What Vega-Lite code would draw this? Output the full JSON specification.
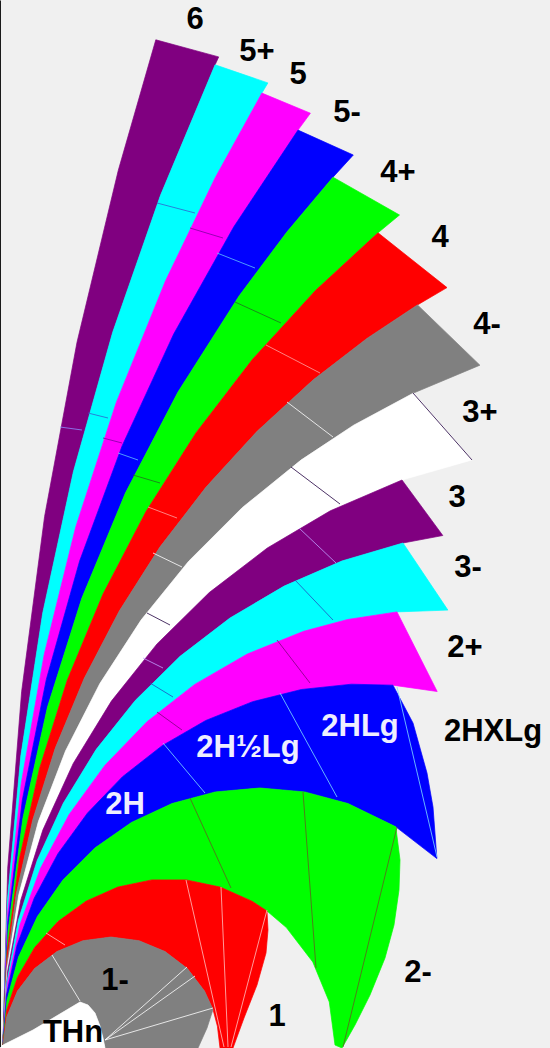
{
  "$schema": "https://vega.github.io/schema/vega-lite/v6.json",
  "width": 550,
  "height": 1048,
  "autosize": {"type": "fit", "contains": "padding"},
  "padding": 0,
  "background": "#f0f0f0",
  "config": {"view": {"stroke": null}},
  "datasets": {
    "bands": [
      {"b":"6","i":0,"x":3,"y":3},{"b":"6","i":1,"x":7.7,"y":179.8},{"b":"6","i":2,"x":21.6,"y":356.2},{"b":"6","i":3,"x":44.6,"y":531.6},{"b":"6","i":4,"x":77,"y":705.7},{"b":"6","i":5,"x":118.3,"y":877.7},{"b":"6","i":6,"x":155.8,"y":1008.2},{"b":"6","i":7,"x":218.7,"y":991.1},{"b":"6","i":8,"x":215.1,"y":983.2},{"b":"6","i":9,"x":160.4,"y":852.4},{"b":"6","i":10,"x":112.7,"y":715.7},{"b":"6","i":11,"x":73.4,"y":576.3},{"b":"6","i":12,"x":42.7,"y":434.8},{"b":"6","i":13,"x":20.8,"y":291.9},{"b":"6","i":14,"x":7.4,"y":147.6},{"b":"6","i":15,"x":3,"y":3},

      {"b":"5+","i":0,"x":3,"y":3},{"b":"5+","i":1,"x":7.4,"y":147.6},{"b":"5+","i":2,"x":20.8,"y":291.9},{"b":"5+","i":3,"x":42.7,"y":434.8},{"b":"5+","i":4,"x":73.4,"y":576.3},{"b":"5+","i":5,"x":112.7,"y":715.7},{"b":"5+","i":6,"x":160.4,"y":852.4},{"b":"5+","i":7,"x":215.1,"y":983.2},{"b":"5+","i":8,"x":267.9,"y":965.1},{"b":"5+","i":9,"x":261.9,"y":954.9},{"b":"5+","i":10,"x":215.3,"y":870.5},{"b":"5+","i":11,"x":165.5,"y":767.2},{"b":"5+","i":12,"x":116.3,"y":645.6},{"b":"5+","i":13,"x":75.7,"y":520.9},{"b":"5+","i":14,"x":44.2,"y":393.6},{"b":"5+","i":15,"x":21.2,"y":264.6},{"b":"5+","i":16,"x":7.5,"y":134.2},{"b":"5+","i":17,"x":3,"y":3},

      {"b":"5","i":0,"x":3,"y":3},{"b":"5","i":1,"x":7.5,"y":134.2},{"b":"5","i":2,"x":21.2,"y":264.6},{"b":"5","i":3,"x":44.2,"y":393.6},{"b":"5","i":4,"x":75.7,"y":520.9},{"b":"5","i":5,"x":116.3,"y":645.6},{"b":"5","i":6,"x":165.5,"y":767.2},{"b":"5","i":7,"x":215.3,"y":870.5},{"b":"5","i":8,"x":261.9,"y":954.9},{"b":"5","i":9,"x":310.4,"y":934.8},{"b":"5","i":10,"x":298,"y":917.9},{"b":"5","i":11,"x":233.8,"y":821.2},{"b":"5","i":12,"x":173.7,"y":714},{"b":"5","i":13,"x":122.2,"y":602.3},{"b":"5","i":14,"x":79.6,"y":486.9},{"b":"5","i":15,"x":46.3,"y":368.5},{"b":"5","i":16,"x":22.3,"y":247.9},{"b":"5","i":17,"x":7.8,"y":125.9},{"b":"5","i":18,"x":3,"y":3},

      {"b":"5-","i":0,"x":3,"y":3},{"b":"5-","i":1,"x":7.8,"y":125.9},{"b":"5-","i":2,"x":22.3,"y":247.9},{"b":"5-","i":3,"x":46.3,"y":368.5},{"b":"5-","i":4,"x":79.6,"y":486.9},{"b":"5-","i":5,"x":122.2,"y":602.3},{"b":"5-","i":6,"x":173.7,"y":714},{"b":"5-","i":7,"x":233.8,"y":821.2},{"b":"5-","i":8,"x":298,"y":917.9},{"b":"5-","i":9,"x":353.3,"y":893},{"b":"5-","i":10,"x":333,"y":870.8},{"b":"5-","i":11,"x":286.9,"y":816},{"b":"5-","i":12,"x":239.1,"y":752.1},{"b":"5-","i":13,"x":178,"y":656},{"b":"5-","i":14,"x":125.4,"y":554.9},{"b":"5-","i":15,"x":81.8,"y":449.7},{"b":"5-","i":16,"x":47.5,"y":341},{"b":"5-","i":17,"x":22.9,"y":229.7},{"b":"5-","i":18,"x":8,"y":116.9},{"b":"5-","i":19,"x":3,"y":3},

      {"b":"4+","i":0,"x":3,"y":3},{"b":"4+","i":1,"x":8,"y":116.9},{"b":"4+","i":2,"x":22.9,"y":229.7},{"b":"4+","i":3,"x":47.5,"y":341},{"b":"4+","i":4,"x":81.8,"y":449.7},{"b":"4+","i":5,"x":125.4,"y":554.9},{"b":"4+","i":6,"x":178,"y":656},{"b":"4+","i":7,"x":239.1,"y":752.1},{"b":"4+","i":8,"x":286.9,"y":816},{"b":"4+","i":9,"x":333,"y":870.8},{"b":"4+","i":10,"x":399.5,"y":833},{"b":"4+","i":11,"x":378,"y":815.2},{"b":"4+","i":12,"x":315.5,"y":757.5},{"b":"4+","i":13,"x":252.7,"y":688.9},{"b":"4+","i":14,"x":195.9,"y":615},{"b":"4+","i":15,"x":146,"y":536.5},{"b":"4+","i":16,"x":103,"y":453.9},{"b":"4+","i":17,"x":67.3,"y":367.9},{"b":"4+","i":18,"x":39.4,"y":279.1},{"b":"4+","i":19,"x":19.2,"y":188.2},{"b":"4+","i":20,"x":7.1,"y":96},{"b":"4+","i":21,"x":3,"y":3},

      {"b":"4","i":0,"x":3,"y":3},{"b":"4","i":1,"x":7.1,"y":96},{"b":"4","i":2,"x":19.2,"y":188.2},{"b":"4","i":3,"x":39.4,"y":279.1},{"b":"4","i":4,"x":67.3,"y":367.9},{"b":"4","i":5,"x":103,"y":453.9},{"b":"4","i":6,"x":146,"y":536.5},{"b":"4","i":7,"x":195.9,"y":615},{"b":"4","i":8,"x":252.7,"y":688.9},{"b":"4","i":9,"x":315.5,"y":757.5},{"b":"4","i":10,"x":378,"y":815.2},{"b":"4","i":11,"x":447,"y":760.4},{"b":"4","i":12,"x":417.5,"y":743.1},{"b":"4","i":13,"x":367,"y":709.6},{"b":"4","i":14,"x":313,"y":667.9},{"b":"4","i":15,"x":257.2,"y":616.8},{"b":"4","i":16,"x":206.1,"y":560.9},{"b":"4","i":17,"x":159.9,"y":500.9},{"b":"4","i":18,"x":119.3,"y":437},{"b":"4","i":19,"x":84.3,"y":369.8},{"b":"4","i":20,"x":55.3,"y":299.9},{"b":"4","i":21,"x":32.6,"y":227.6},{"b":"4","i":22,"x":16.2,"y":153.7},{"b":"4","i":23,"x":6.3,"y":78.7},{"b":"4","i":24,"x":3,"y":3},

      {"b":"4-","i":0,"x":3,"y":3},{"b":"4-","i":1,"x":6.3,"y":78.7},{"b":"4-","i":2,"x":16.2,"y":153.7},{"b":"4-","i":3,"x":32.6,"y":227.6},{"b":"4-","i":4,"x":55.3,"y":299.9},{"b":"4-","i":5,"x":84.3,"y":369.8},{"b":"4-","i":6,"x":119.3,"y":437},{"b":"4-","i":7,"x":159.9,"y":500.9},{"b":"4-","i":8,"x":206.1,"y":560.9},{"b":"4-","i":9,"x":257.2,"y":616.8},{"b":"4-","i":10,"x":313,"y":667.9},{"b":"4-","i":11,"x":367,"y":709.6},{"b":"4-","i":12,"x":417.5,"y":743.1},{"b":"4-","i":13,"x":479.9,"y":682.8},{"b":"4-","i":14,"x":413.6,"y":655},{"b":"4-","i":15,"x":353.7,"y":622.8},{"b":"4-","i":16,"x":301,"y":587.9},{"b":"4-","i":17,"x":242.2,"y":540.3},{"b":"4-","i":18,"x":188.7,"y":486.8},{"b":"4-","i":19,"x":141.1,"y":428},{"b":"4-","i":20,"x":99.9,"y":364.5},{"b":"4-","i":21,"x":65.5,"y":297},{"b":"4-","i":22,"x":38.4,"y":226.4},{"b":"4-","i":23,"x":18.8,"y":153.3},{"b":"4-","i":24,"x":7,"y":78.6},{"b":"4-","i":25,"x":3,"y":3},

      {"b":"3+","i":0,"x":3,"y":3},{"b":"3+","i":1,"x":7,"y":78.6},{"b":"3+","i":2,"x":18.8,"y":153.3},{"b":"3+","i":3,"x":38.4,"y":226.4},{"b":"3+","i":4,"x":65.5,"y":297},{"b":"3+","i":5,"x":99.9,"y":364.5},{"b":"3+","i":6,"x":141.1,"y":428},{"b":"3+","i":7,"x":188.7,"y":486.8},{"b":"3+","i":8,"x":242.2,"y":540.3},{"b":"3+","i":9,"x":301,"y":587.9},{"b":"3+","i":10,"x":353.7,"y":622.8},{"b":"3+","i":11,"x":413.6,"y":655},{"b":"3+","i":12,"x":472,"y":588.1},{"b":"3+","i":13,"x":402,"y":568},{"b":"3+","i":14,"x":330.3,"y":537.2},{"b":"3+","i":15,"x":267.3,"y":500},{"b":"3+","i":16,"x":209.2,"y":455.4},{"b":"3+","i":17,"x":157,"y":404.1},{"b":"3+","i":18,"x":111.4,"y":346.9},{"b":"3+","i":19,"x":73.2,"y":284.5},{"b":"3+","i":20,"x":42.8,"y":217.9},{"b":"3+","i":21,"x":20.8,"y":148},{"b":"3+","i":22,"x":7.5,"y":76.1},{"b":"3+","i":23,"x":3,"y":3},

      {"b":"3","i":0,"x":3,"y":3},{"b":"3","i":1,"x":7.5,"y":76.1},{"b":"3","i":2,"x":20.8,"y":148},{"b":"3","i":3,"x":42.8,"y":217.9},{"b":"3","i":4,"x":73.2,"y":284.5},{"b":"3","i":5,"x":111.4,"y":346.9},{"b":"3","i":6,"x":157,"y":404.1},{"b":"3","i":7,"x":209.2,"y":455.4},{"b":"3","i":8,"x":267.3,"y":500},{"b":"3","i":9,"x":330.3,"y":537.2},{"b":"3","i":10,"x":402,"y":568},{"b":"3","i":11,"x":442.8,"y":512.5},{"b":"3","i":12,"x":403,"y":505},{"b":"3","i":13,"x":341.9,"y":487},{"b":"3","i":14,"x":284.2,"y":461.9},{"b":"3","i":15,"x":230,"y":430},{"b":"3","i":16,"x":180.1,"y":391.7},{"b":"3","i":17,"x":135.3,"y":347.6},{"b":"3","i":18,"x":96.1,"y":298.4},{"b":"3","i":19,"x":63.3,"y":244.8},{"b":"3","i":20,"x":37.2,"y":187.6},{"b":"3","i":21,"x":18.3,"y":127.6},{"b":"3","i":22,"x":6.9,"y":65.8},{"b":"3","i":23,"x":3,"y":3},

      {"b":"3-","i":0,"x":3,"y":3},{"b":"3-","i":1,"x":6.9,"y":65.8},{"b":"3-","i":2,"x":18.3,"y":127.6},{"b":"3-","i":3,"x":37.2,"y":187.6},{"b":"3-","i":4,"x":63.3,"y":244.8},{"b":"3-","i":5,"x":96.1,"y":298.4},{"b":"3-","i":6,"x":135.3,"y":347.6},{"b":"3-","i":7,"x":180.1,"y":391.7},{"b":"3-","i":8,"x":230,"y":430},{"b":"3-","i":9,"x":284.2,"y":461.9},{"b":"3-","i":10,"x":341.9,"y":487},{"b":"3-","i":11,"x":403,"y":505},{"b":"3-","i":12,"x":447.9,"y":437.9},{"b":"3-","i":13,"x":397,"y":436.1},{"b":"3-","i":14,"x":347.6,"y":428.5},{"b":"3-","i":15,"x":303.6,"y":416.7},{"b":"3-","i":16,"x":247.3,"y":394},{"b":"3-","i":17,"x":194.7,"y":363.6},{"b":"3-","i":18,"x":146.9,"y":326.2},{"b":"3-","i":19,"x":104.8,"y":282.6},{"b":"3-","i":20,"x":69.1,"y":233.5},{"b":"3-","i":21,"x":40.6,"y":179.9},{"b":"3-","i":22,"x":19.8,"y":122.9},{"b":"3-","i":23,"x":7.2,"y":63.5},{"b":"3-","i":24,"x":3,"y":3},

      {"b":"2+","i":0,"x":3,"y":3},{"b":"2+","i":1,"x":7.2,"y":63.5},{"b":"2+","i":2,"x":19.8,"y":122.9},{"b":"2+","i":3,"x":40.6,"y":179.9},{"b":"2+","i":4,"x":69.1,"y":233.5},{"b":"2+","i":5,"x":104.8,"y":282.6},{"b":"2+","i":6,"x":146.9,"y":326.2},{"b":"2+","i":7,"x":194.7,"y":363.6},{"b":"2+","i":8,"x":247.3,"y":394},{"b":"2+","i":9,"x":303.6,"y":416.7},{"b":"2+","i":10,"x":347.6,"y":428.5},{"b":"2+","i":11,"x":397,"y":436.1},{"b":"2+","i":12,"x":437.2,"y":356.5},{"b":"2+","i":13,"x":393,"y":362.8},{"b":"2+","i":14,"x":351.4,"y":363.8},{"b":"2+","i":15,"x":301.3,"y":358.5},{"b":"2+","i":16,"x":252.5,"y":346.3},{"b":"2+","i":17,"x":205.7,"y":327.5},{"b":"2+","i":18,"x":162.1,"y":302.3},{"b":"2+","i":19,"x":122.5,"y":271.3},{"b":"2+","i":20,"x":87.5,"y":235},{"b":"2+","i":21,"x":57.9,"y":194.3},{"b":"2+","i":22,"x":34.2,"y":149.8},{"b":"2+","i":23,"x":17,"y":102.5},{"b":"2+","i":24,"x":6.5,"y":53.2},{"b":"2+","i":25,"x":3,"y":3},

      {"b":"2H","i":0,"x":3,"y":3},{"b":"2H","i":1,"x":6.5,"y":53.2},{"b":"2H","i":2,"x":17,"y":102.5},{"b":"2H","i":3,"x":34.2,"y":149.8},{"b":"2H","i":4,"x":57.9,"y":194.3},{"b":"2H","i":5,"x":87.5,"y":235},{"b":"2H","i":6,"x":122.5,"y":271.3},{"b":"2H","i":7,"x":162.1,"y":302.3},{"b":"2H","i":8,"x":205.7,"y":327.5},{"b":"2H","i":9,"x":252.5,"y":346.3},{"b":"2H","i":10,"x":301.3,"y":358.5},{"b":"2H","i":11,"x":351.4,"y":363.8},{"b":"2H","i":12,"x":393,"y":362.8},{"b":"2H","i":13,"x":413,"y":325},{"b":"2H","i":14,"x":427,"y":275},{"b":"2H","i":15,"x":433,"y":241},{"b":"2H","i":16,"x":436.9,"y":189.4},{"b":"2H","i":17,"x":395.8,"y":221.2},{"b":"2H","i":18,"x":347.9,"y":244.5},{"b":"2H","i":19,"x":304.6,"y":256.1},{"b":"2H","i":20,"x":260,"y":260},{"b":"2H","i":21,"x":215.4,"y":256.1},{"b":"2H","i":22,"x":172.1,"y":244.5},{"b":"2H","i":23,"x":131.5,"y":225.6},{"b":"2H","i":24,"x":94.8,"y":199.9},{"b":"2H","i":25,"x":63.1,"y":168.2},{"b":"2H","i":26,"x":37.4,"y":131.5},{"b":"2H","i":27,"x":18.5,"y":90.9},{"b":"2H","i":28,"x":6.9,"y":47.6},{"b":"2H","i":29,"x":3,"y":3},

      {"b":"2-","i":0,"x":3,"y":3},{"b":"2-","i":1,"x":6.9,"y":47.6},{"b":"2-","i":2,"x":18.5,"y":90.9},{"b":"2-","i":3,"x":37.4,"y":131.5},{"b":"2-","i":4,"x":63.1,"y":168.2},{"b":"2-","i":5,"x":94.8,"y":199.9},{"b":"2-","i":6,"x":131.5,"y":225.6},{"b":"2-","i":7,"x":172.1,"y":244.5},{"b":"2-","i":8,"x":215.4,"y":256.1},{"b":"2-","i":9,"x":260,"y":260},{"b":"2-","i":10,"x":304.6,"y":256.1},{"b":"2-","i":11,"x":347.9,"y":244.5},{"b":"2-","i":12,"x":395.8,"y":221.2},{"b":"2-","i":13,"x":400,"y":188},{"b":"2-","i":14,"x":399,"y":158},{"b":"2-","i":15,"x":394,"y":123},{"b":"2-","i":16,"x":385,"y":90},{"b":"2-","i":17,"x":370,"y":53},{"b":"2-","i":18,"x":355,"y":23},{"b":"2-","i":19,"x":342,"y":0},{"b":"2-","i":20,"x":335,"y":3},{"b":"2-","i":21,"x":329.3,"y":46},{"b":"2-","i":22,"x":312.8,"y":86},{"b":"2-","i":23,"x":286.4,"y":120.4},{"b":"2-","i":24,"x":267,"y":137},{"b":"2-","i":25,"x":252,"y":146.8},{"b":"2-","i":26,"x":220.3,"y":160.9},{"b":"2-","i":27,"x":186.3,"y":168.1},{"b":"2-","i":28,"x":151.7,"y":168.1},{"b":"2-","i":29,"x":117.7,"y":160.9},{"b":"2-","i":30,"x":86,"y":146.8},{"b":"2-","i":31,"x":57.9,"y":126.4},{"b":"2-","i":32,"x":34.7,"y":100.6},{"b":"2-","i":33,"x":17.4,"y":70.5},{"b":"2-","i":34,"x":6.6,"y":37.5},{"b":"2-","i":35,"x":3,"y":3},

      {"b":"1","i":0,"x":3,"y":3},{"b":"1","i":1,"x":6.6,"y":37.5},{"b":"1","i":2,"x":17.4,"y":70.5},{"b":"1","i":3,"x":34.7,"y":100.6},{"b":"1","i":4,"x":57.9,"y":126.4},{"b":"1","i":5,"x":86,"y":146.8},{"b":"1","i":6,"x":117.7,"y":160.9},{"b":"1","i":7,"x":151.7,"y":168.1},{"b":"1","i":8,"x":186.3,"y":168.1},{"b":"1","i":9,"x":220.3,"y":160.9},{"b":"1","i":10,"x":252,"y":146.8},{"b":"1","i":11,"x":267,"y":137},{"b":"1","i":12,"x":268,"y":118},{"b":"1","i":13,"x":266,"y":95},{"b":"1","i":14,"x":257,"y":63},{"b":"1","i":15,"x":244,"y":30},{"b":"1","i":16,"x":233,"y":0},{"b":"1","i":17,"x":220,"y":0},{"b":"1","i":18,"x":217.4,"y":21.8},{"b":"1","i":19,"x":213,"y":38.5},{"b":"1","i":20,"x":204.5,"y":57},{"b":"1","i":21,"x":187.4,"y":79.4},{"b":"1","i":22,"x":165,"y":96.5},{"b":"1","i":23,"x":139,"y":107.3},{"b":"1","i":24,"x":111,"y":111},{"b":"1","i":25,"x":83,"y":107.3},{"b":"1","i":26,"x":57,"y":96.5},{"b":"1","i":27,"x":34.6,"y":79.4},{"b":"1","i":28,"x":17.5,"y":57},{"b":"1","i":29,"x":6.7,"y":31},{"b":"1","i":30,"x":3,"y":3},

      {"b":"1-","i":0,"x":3,"y":3},{"b":"1-","i":1,"x":6.7,"y":31},{"b":"1-","i":2,"x":17.5,"y":57},{"b":"1-","i":3,"x":34.6,"y":79.4},{"b":"1-","i":4,"x":57,"y":96.5},{"b":"1-","i":5,"x":83,"y":107.3},{"b":"1-","i":6,"x":111,"y":111},{"b":"1-","i":7,"x":139,"y":107.3},{"b":"1-","i":8,"x":165,"y":96.5},{"b":"1-","i":9,"x":187.4,"y":79.4},{"b":"1-","i":10,"x":204.5,"y":57},{"b":"1-","i":11,"x":213,"y":38.5},{"b":"1-","i":12,"x":207,"y":20},{"b":"1-","i":13,"x":198,"y":0},{"b":"1-","i":14,"x":105,"y":0},{"b":"1-","i":15,"x":103,"y":10},{"b":"1-","i":16,"x":100,"y":22},{"b":"1-","i":17,"x":95,"y":35},{"b":"1-","i":18,"x":88,"y":43},{"b":"1-","i":19,"x":80,"y":46},{"b":"1-","i":20,"x":33,"y":18},{"b":"1-","i":21,"x":3,"y":3},

      {"b":"THn","i":0,"x":0,"y":0},{"b":"THn","i":1,"x":3,"y":3},{"b":"THn","i":2,"x":33,"y":18},{"b":"THn","i":3,"x":80,"y":46},{"b":"THn","i":4,"x":88,"y":43},{"b":"THn","i":5,"x":95,"y":35},{"b":"THn","i":6,"x":100,"y":22},{"b":"THn","i":7,"x":103,"y":10},{"b":"THn","i":8,"x":105,"y":0},{"b":"THn","i":9,"x":0,"y":0}
    ],
    "dividers": [
      {"b":"6","x":60,"y":621,"x2":82,"y2":618},
      {"b":"5+","x":157,"y":845,"x2":195,"y2":835},{"b":"5+","x":88,"y":635,"x2":108,"y2":630},
      {"b":"5","x":190,"y":820,"x2":223,"y2":810},{"b":"5","x":103,"y":610,"x2":122,"y2":605},
      {"b":"5-","x":217,"y":795,"x2":255,"y2":780},{"b":"5-","x":118,"y":595,"x2":138,"y2":588},
      {"b":"4+","x":235,"y":746,"x2":281,"y2":725},{"b":"4+","x":133,"y":573,"x2":160,"y2":565},
      {"b":"4","x":266,"y":703,"x2":320,"y2":675},{"b":"4","x":148,"y":541,"x2":177,"y2":530},
      {"b":"4-","x":287,"y":646,"x2":333,"y2":611},{"b":"4-","x":153,"y":495,"x2":182,"y2":481},
      {"b":"3+","x":291,"y":581,"x2":340,"y2":544},{"b":"3+","x":147,"y":435,"x2":170,"y2":423},{"b":"3+","x":413,"y":655,"x2":472,"y2":588},
      {"b":"3","x":299,"y":520,"x2":336,"y2":485},{"b":"3","x":143,"y":390,"x2":163,"y2":380},
      {"b":"3-","x":295,"y":468,"x2":333,"y2":428},{"b":"3-","x":150,"y":365,"x2":173,"y2":351},
      {"b":"2+","x":277,"y":408,"x2":310,"y2":365},{"b":"2+","x":157,"y":336,"x2":182,"y2":318},
      {"b":"2H","x":280,"y":355,"x2":337,"y2":251},{"b":"2H","x":163,"y":305,"x2":205,"y2":255},{"b":"2H","x":397,"y":361,"x2":437,"y2":191},
      {"b":"2-","x":303,"y":256,"x2":316,"y2":80},{"b":"2-","x":190,"y":250,"x2":231,"y2":160},{"b":"2-","x":397,"y":221,"x2":343,"y2":1},
      {"b":"1","x":186,"y":168,"x2":224,"y2":1},{"b":"1","x":221,"y":161,"x2":228,"y2":1},{"b":"1","x":267,"y":138,"x2":231,"y2":1},{"b":"1","x":46,"y":115,"x2":65,"y2":103},
      {"b":"1-","x":105,"y":8,"x2":187,"y2":81},{"b":"1-","x":105,"y":8,"x2":195,"y2":72},{"b":"1-","x":105,"y":8,"x2":213,"y2":40},{"b":"1-","x":52,"y":93,"x2":80,"y2":47}
    ],
    "labels": [
      {"t":"6","x":195,"y":1028},{"t":"5+","x":257,"y":996},{"t":"5","x":298,"y":973},{"t":"5-","x":347,"y":935},
      {"t":"4+","x":398,"y":875},{"t":"4","x":440,"y":810},{"t":"4-","x":487,"y":723},{"t":"3+","x":480,"y":635},
      {"t":"3","x":457,"y":550},{"t":"3-","x":468,"y":480},{"t":"2+","x":465,"y":400},{"t":"2HXLg","x":493,"y":316},
      {"t":"2-","x":418,"y":75},{"t":"1","x":277,"y":31},{"t":"1-","x":115,"y":67},{"t":"THn","x":73,"y":15}
    ],
    "inlabels": [
      {"t":"2H","x":125,"y":243},{"t":"2H½Lg","x":248,"y":300},{"t":"2HLg","x":360,"y":321}
    ]
  },
  "encoding": {
    "x": {"field": "x", "type": "quantitative", "scale": {"domain": [0, 550], "nice": false, "zero": false}, "axis": {"domain": true, "domainColor": "#1a1a1a", "ticks": false, "labels": false, "grid": false, "title": null, "minExtent": 0, "maxExtent": 0}},
    "y": {"field": "y", "type": "quantitative", "scale": {"domain": [0, 1048], "nice": false, "zero": false}, "axis": {"domain": true, "domainColor": "#1a1a1a", "ticks": false, "labels": false, "grid": false, "title": null, "minExtent": 0, "maxExtent": 0}}
  },
  "layer": [
    {
      "data": {"name": "bands"},
      "mark": {"type": "line", "filled": true, "interpolate": "linear", "strokeWidth": 0.7, "clip": true},
      "encoding": {
        "fill": {"field": "b", "type": "nominal", "legend": null,
          "scale": {"domain": ["6","5+","5","5-","4+","4","4-","3+","3","3-","2+","2H","2-","1","1-","THn"],
                    "range": ["#800080","#00ffff","#ff00ff","#0000ff","#00ff00","#ff0000","#808080","#ffffff","#800080","#00ffff","#ff00ff","#0000ff","#00ff00","#ff0000","#808080","#ffffff"]}},
        "stroke": {"field": "b", "type": "nominal", "legend": null,
          "scale": {"domain": ["6","5+","5","5-","4+","4","4-","3+","3","3-","2+","2H","2-","1","1-","THn"],
                    "range": ["#800080","#00ffff","#ff00ff","#0000ff","#00ff00","#ff0000","#808080","#ffffff","#800080","#00ffff","#ff00ff","#0000ff","#00ff00","#ff0000","#808080","#ffffff"]}},
        "detail": {"field": "b"},
        "order": {"field": "i", "type": "quantitative"}
      }
    },
    {
      "data": {"name": "dividers"},
      "mark": {"type": "rule", "strokeWidth": 1, "opacity": 0.8},
      "encoding": {
        "x2": {"field": "x2"},
        "y2": {"field": "y2"},
        "color": {"field": "b", "type": "nominal", "legend": null,
          "scale": {"domain": ["6","5+","5","5-","4+","4","4-","3+","3","3-","2+","2H","2-","1","1-"],
                    "range": ["#8c8cff","#3060d0","#8000a0","#60c0ff","#207020","#ffa0a0","#ffffff","#200040","#c0a0ff","#2050c0","#800080","#80e0ff","#606020","#ffc0c0","#ffffff"]}}
      }
    },
    {
      "data": {"name": "labels"},
      "mark": {"type": "text", "font": "Liberation Sans", "fontWeight": "bold", "fontSize": 31, "color": "#000000", "align": "center", "baseline": "middle"},
      "encoding": {"text": {"field": "t"}}
    },
    {
      "data": {"name": "inlabels"},
      "mark": {"type": "text", "font": "Liberation Sans", "fontWeight": "bold", "fontSize": 31, "color": "#eeeeff", "align": "center", "baseline": "middle"},
      "encoding": {"text": {"field": "t"}}
    }
  ]
}
